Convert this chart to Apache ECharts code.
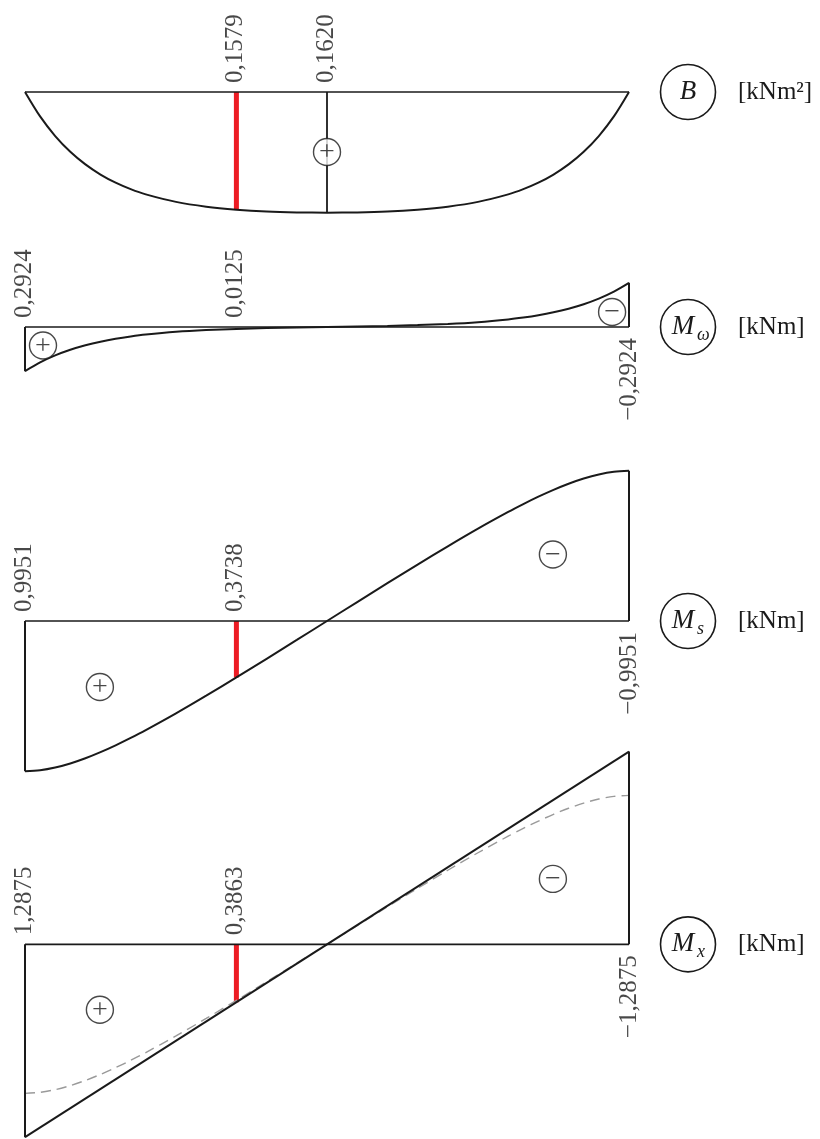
<!DOCTYPE html>
<html>
<head>
<meta charset="utf-8">
<script src="https://cdn.jsdelivr.net/npm/echarts@6/dist/echarts.min.js"></script>
<style>
html, body { margin: 0; padding: 0; background: #fff; }
#chart { width: 820px; height: 1139px; }
</style>
</head>
<body>
<div id="chart"></div>
<script>
// positions along the beam [m]
var xs = [0, 0.125, 0.25, 0.375, 0.5, 0.625, 0.75, 0.875, 1, 1.25, 1.5, 1.75, 2, 2.25, 2.5,
  2.75, 3, 3.25, 3.5, 3.75, 4, 4.125, 4.25, 4.375, 4.5, 4.625, 4.75, 4.875, 5];
// bimoment B [kNm2]
var bVals = [0, 0.0328, 0.0591, 0.0802, 0.0972, 0.1108, 0.1217, 0.1304, 0.1374, 0.1475, 0.1539, 0.1579, 0.1604, 0.1616, 0.1620,
  0.1616, 0.1604, 0.1579, 0.1539, 0.1475, 0.1374, 0.1304, 0.1217, 0.1108, 0.0972, 0.0802, 0.0591, 0.0328, 0];
// warping torsion moment M_w [kNm]
var mwVals = [0.2924, 0.2346, 0.1882, 0.1510, 0.1212, 0.0972, 0.0779, 0.0625, 0.0500, 0.0320, 0.0202, 0.0125, 0.0072, 0.0033, 0,
  -0.0033, -0.0072, -0.0125, -0.0202, -0.0320, -0.0500, -0.0625, -0.0779, -0.0972, -0.1212, -0.1510, -0.1882, -0.2346, -0.2924];
// St. Venant torsion moment M_s [kNm]
var msVals = [0.9951, 0.9885, 0.9705, 0.9434, 0.9089, 0.8685, 0.8233, 0.7744, 0.7225, 0.6118, 0.4948, 0.3738, 0.2503, 0.1255, 0,
  -0.1255, -0.2503, -0.3738, -0.4948, -0.6118, -0.7225, -0.7744, -0.8233, -0.8685, -0.9089, -0.9434, -0.9705, -0.9885, -0.9951];
// total torsion moment M_x [kNm]
var mxX = [0, 5];
var mxVals = [1.2875, -1.2875];

// marked section
var cutX = 1.75;
var cutB = 0.1579, cutMw = 0.0125, cutMs = 0.3738, cutMx = 0.3863;
var midX = 2.5, midB = 0.1620;

var font = 'Liberation Serif';
var ink = '#1a1a1a';
var red = '#ed1c24';

function fmt(v) {
  return (v < 0 ? '\u2212' : '') + Math.abs(v).toFixed(4).replace('.', ',');
}
function pts(xArr, yArr) {
  return xArr.map(function (x, i) { return [x, yArr[i]]; });
}

var grids = [
  { left: 25, width: 604, top: 92, height: 149 },
  { left: 25, width: 604, top: 130.7, height: 392.6 },
  { left: 25, width: 604, top: 424.7, height: 392.6 },
  { left: 25, width: 604, top: 749.7, height: 392.6 }
];
var xAxes = grids.map(function (g, i) {
  return { type: 'value', gridIndex: i, min: 0, max: 5, show: false };
});
var yAxes = grids.map(function (g, i) {
  return i === 0
    ? { type: 'value', gridIndex: 0, min: 0, max: 0.2, inverse: true, show: false }
    : { type: 'value', gridIndex: i, min: -1.3, max: 1.3, inverse: true, show: false };
});

var series = [];
function line(g, data, opt) {
  opt = opt || {};
  series.push({
    type: 'line', xAxisIndex: g, yAxisIndex: g, data: data, symbol: 'none', clip: false,
    smooth: opt.smooth || false, z: opt.z || 3, silent: true,
    lineStyle: { color: opt.color || ink, width: opt.width || 2, type: opt.type || 'solid' }
  });
}
function signs(g, data) {
  series.push({
    type: 'scatter', xAxisIndex: g, yAxisIndex: g, clip: false, z: 6, silent: true,
    symbol: 'circle', symbolSize: 27,
    itemStyle: { color: '#fff', borderColor: ink, borderWidth: 1.4 },
    label: {
      show: true, position: 'inside', color: ink, fontFamily: font, fontSize: 28,
      offset: [0, 1],
      formatter: function (p) { return p.data[2]; }
    },
    data: data
  });
}
function labels(g, data) {
  // data: [x, value, dir]  dir 1 above baseline, -1 below
  data.forEach(function (d) {
    series.push({
      type: 'scatter', xAxisIndex: g, yAxisIndex: g, clip: false, z: 7, silent: true,
      symbolSize: 0,
      label: {
        show: true, rotate: 90, color: ink, fontFamily: font, fontSize: 25,
        position: d[2] > 0 ? [-1, -9] : [0, 11],
        align: d[2] > 0 ? 'left' : 'right', verticalAlign: 'middle',
        formatter: fmt(d[1])
      },
      data: [[d[0], 0]]
    });
  });
}

// B
line(0, [[0, 0], [5, 0]], { width: 1.6 });
line(0, pts(xs, bVals), { smooth: 0.3 });
line(0, [[cutX, 0], [cutX, cutB]], { color: red, width: 5, z: 2 });
line(0, [[midX, 0], [midX, midB]], { width: 1.8 });
signs(0, [[2.5, 0.0805, '+']]);
labels(0, [[cutX, cutB, 1], [midX, midB, 1]]);

// M_w
line(1, [[0, 0], [5, 0]], { width: 1.6 });
line(1, [[0, 0], [0, mwVals[0]]]);
line(1, [[5, 0], [5, mwVals[mwVals.length - 1]]]);
line(1, pts(xs, mwVals), { smooth: 0.3 });
signs(1, [[0.149, 0.1225, '+'], [4.86, -0.099, '\u2212']]);
labels(1, [[0, mwVals[0], 1], [cutX, cutMw, 1], [5, mwVals[mwVals.length - 1], -1]]);

// M_s
line(2, [[0, 0], [5, 0]], { width: 1.6 });
line(2, [[0, 0], [0, msVals[0]]]);
line(2, [[5, 0], [5, msVals[msVals.length - 1]]]);
line(2, [[cutX, 0], [cutX, cutMs]], { color: red, width: 5, z: 2 });
line(2, pts(xs, msVals), { smooth: 0.3 });
signs(2, [[0.62, 0.437, '+'], [4.37, -0.44, '\u2212']]);
labels(2, [[0, msVals[0], 1], [cutX, cutMs, 1], [5, msVals[msVals.length - 1], -1]]);

// M_x (dashed: M_s for comparison)
line(3, [[0, 0], [5, 0]], { width: 1.6 });
line(3, [[0, 0], [0, mxVals[0]]]);
line(3, [[5, 0], [5, mxVals[1]]]);
line(3, [[cutX, 0], [cutX, cutMx]], { color: red, width: 5, z: 2 });
line(3, pts(xs, msVals), { smooth: 0.3, color: '#9a9a9a', width: 1.4, type: [10, 6], z: 2 });
line(3, pts(mxX, mxVals));
signs(3, [[0.62, 0.437, '+'], [4.37, -0.437, '\u2212']]);
labels(3, [[0, mxVals[0], 1], [cutX, cutMx, 1], [5, mxVals[1], -1]]);

var chart = echarts.init(document.getElementById('chart'));
chart.setOption({
  backgroundColor: '#fff',
  animation: false,
  grid: grids,
  xAxis: xAxes,
  yAxis: yAxes,
  series: series
});

// diagram names and units to the right of each panel
var names = [
  { main: 'B', sub: '', unit: '[kNm\u00b2]' },
  { main: 'M', sub: '\u03c9', unit: '[kNm]' },
  { main: 'M', sub: 's', unit: '[kNm]' },
  { main: 'M', sub: 'x', unit: '[kNm]' }
];
var graphics = [];
names.forEach(function (n, g) {
  var p = chart.convertToPixel({ gridIndex: g }, [5, 0]);
  var cx = p[0] + 59, cy = p[1];
  graphics.push({ type: 'circle', shape: { cx: cx, cy: cy, r: 27.5 },
    style: { fill: '#fff', stroke: ink, lineWidth: 1.6 } });
  var mx = n.sub ? cx - 5 : cx;
  graphics.push({ type: 'text', x: mx, y: cy, style: {
    text: n.main, font: 'italic 27px "' + font + '"', fill: ink, align: 'center', verticalAlign: 'middle' } });
  if (n.sub) {
    graphics.push({ type: 'text', x: cx + 9, y: cy + 8, style: {
      text: n.sub, font: 'italic 18px "' + font + '"', fill: ink, align: 'left', verticalAlign: 'middle' } });
  }
  graphics.push({ type: 'text', x: p[0] + 109, y: cy, style: {
    text: n.unit, font: '25px "' + font + '"', fill: ink, align: 'left', verticalAlign: 'middle' } });
});
chart.setOption({ graphic: graphics });
</script>
</body>
</html>
